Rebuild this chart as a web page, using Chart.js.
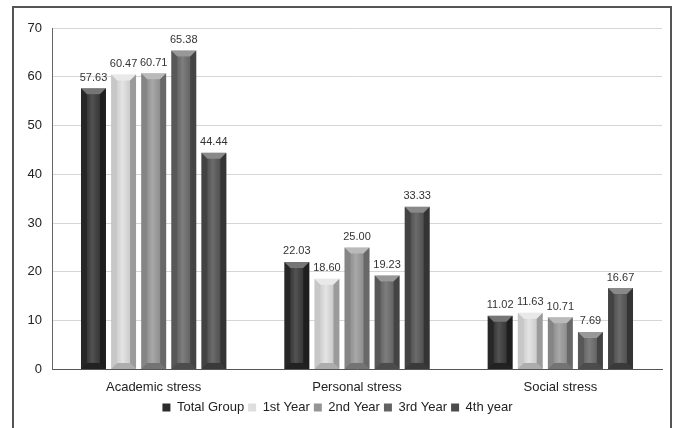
<!DOCTYPE html>
<html lang="en">
<head>
    <meta charset="UTF-8">
    <title>stress chart</title>
    <style>
        body { margin: 0; background: #fff; }
        #wrap { position: relative; width: 678px; height: 428px; }
    </style>
</head>
<body>
    <div id="wrap">
        <canvas id="bar_chart"></canvas>
    </div>

    <script src="https://cdn.jsdelivr.net/npm/chart.js"></script>

    <script>
        // data
        const categories = ['Academic stress', 'Personal stress', 'Social stress'];
        const seriesNames = ['Total Group', '1st Year', '2nd Year', '3rd Year', '4th year'];
        const totalGroup = [57.63, 22.03, 11.02];
        const firstYear = [60.47, 18.60, 11.63];
        const secondYear = [60.71, 25.00, 10.71];
        const thirdYear = [65.38, 19.23, 7.69];
        const fourthYear = [44.44, 33.33, 16.67];
        const yMin = 0, yMax = 70, yStep = 10;

        const seriesValues = [totalGroup, firstYear, secondYear, thirdYear, fourthYear];
        const seriesColors = ['#2c2c2c', '#dedede', '#959595', '#626262', '#4b4b4b'];

        const font = "'Liberation Sans', Arial, sans-serif";

        // white page + frame round the chart
        const framePlugin = {
            id: 'frame',
            beforeDraw(chart) {
                const ctx = chart.ctx;
                ctx.save();
                ctx.fillStyle = '#fff';
                ctx.fillRect(0, 0, chart.width, chart.height);
                ctx.strokeStyle = '#555';
                ctx.lineWidth = 2;
                ctx.strokeRect(13, 7, 658, 440);
                ctx.restore();
            }
        };

        // bevelled look + value labels
        function poly(ctx, pts, fill) {
            ctx.beginPath();
            ctx.moveTo(pts[0][0], pts[0][1]);
            for (let i = 1; i < pts.length; i++) ctx.lineTo(pts[i][0], pts[i][1]);
            ctx.closePath();
            ctx.fillStyle = fill;
            ctx.fill();
        }

        const bevelPlugin = {
            id: 'bevel',
            afterDatasetsDraw(chart) {
                const ctx = chart.ctx;
                ctx.save();
                chart.data.datasets.forEach((ds, di) => {
                    const meta = chart.getDatasetMeta(di);
                    meta.data.forEach((bar, i) => {
                        const p = bar.getProps(['x', 'y', 'base', 'width'], true);
                        const l = p.x - p.width / 2, r = p.x + p.width / 2;
                        const t = p.y, b = p.base;
                        const s = Math.min(6, (b - t) / 2);

                        // center shading
                        const g = ctx.createLinearGradient(l, 0, r, 0);
                        g.addColorStop(0, 'rgba(0,0,0,0.10)');
                        g.addColorStop(0.45, 'rgba(255,255,255,0.18)');
                        g.addColorStop(1, 'rgba(0,0,0,0.15)');
                        ctx.fillStyle = g;
                        ctx.fillRect(l + s, t + s, r - l - 2 * s, b - t - 2 * s);

                        poly(ctx, [[l, t], [r, t], [r - s, t + s], [l + s, t + s]], 'rgba(255,255,255,0.35)');
                        poly(ctx, [[l, t], [l + s, t + s], [l + s, b - s], [l, b]], 'rgba(0,0,0,0.10)');
                        poly(ctx, [[r, t], [r, b], [r - s, b - s], [r - s, t + s]], 'rgba(0,0,0,0.30)');
                        poly(ctx, [[l, b], [l + s, b - s], [r - s, b - s], [r, b]], 'rgba(0,0,0,0.22)');

                        // value label
                        ctx.fillStyle = '#333';
                        ctx.font = '11px ' + font;
                        ctx.textAlign = 'center';
                        ctx.textBaseline = 'bottom';
                        ctx.fillText(ds.data[i].toFixed(2), p.x, t - 5);
                    });
                });
                ctx.restore();
            }
        };

        const datasets = seriesNames.map((name, k) => ({
            label: name,
            data: seriesValues[k],
            backgroundColor: seriesColors[k],
            borderWidth: 0,
            categoryPercentage: 0.74,
            barPercentage: 0.83
        }));

        new Chart(document.getElementById('bar_chart'), {
            type: 'bar',
            data: { labels: categories, datasets: datasets },
            plugins: [framePlugin, bevelPlugin],
            options: {
                responsive: true,
                maintainAspectRatio: false,
                animation: false,
                devicePixelRatio: 1,
                layout: { padding: { left: 13, top: 28, right: 16, bottom: 4 } },
                plugins: {
                    tooltip: { enabled: false },
                    legend: {
                        position: 'bottom',
                        labels: {
                            color: '#222',
                            font: { family: font, size: 13 },
                            boxWidth: 8,
                            boxHeight: 8,
                            padding: 4
                        }
                    }
                },
                scales: {
                    x: {
                        grid: { display: false },
                        border: { color: '#555', width: 1 },
                        ticks: { color: '#222', font: { family: font, size: 13 }, padding: 2 }
                    },
                    y: {
                        min: yMin,
                        max: yMax,
                        afterFit(scale) { scale.width = 39; },
                        grid: { color: '#d6d6d6', drawTicks: false },
                        border: { color: '#666', width: 1 },
                        ticks: {
                            stepSize: yStep,
                            color: '#222',
                            font: { family: font, size: 13 },
                            padding: 10
                        }
                    }
                }
            }
        });
    </script>
</body>
</html>
